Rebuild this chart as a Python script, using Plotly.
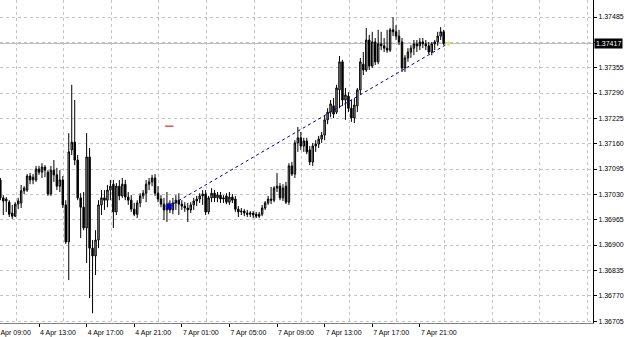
import plotly.graph_objects as go
import pandas as pd

# ---- data (EURUSD-like M15 candles, 4 Apr 09:45 -> 7 Apr 22:45) ----
opens = [
1.37067,1.37021,1.37013,1.37010,1.36982,1.36974,1.37005,1.37008,1.37039,1.37041,
1.37077,1.37067,1.37067,1.37095,1.37087,1.37100,1.37087,1.37031,1.37092,1.37080,
1.37051,1.37067,1.37003,1.36908,1.37144,1.37164,1.37118,1.37021,1.36997,1.36944,
1.37126,1.36892,1.36872,1.36913,1.37003,1.37021,1.37015,1.37041,1.37056,1.36985,
1.37051,1.37026,1.37056,1.37023,1.37015,1.36992,1.36979,1.37008,1.37026,1.37033,
1.37056,1.37062,1.37072,1.37033,1.37018,1.37005,1.36990,1.36997,1.36990,1.37008,
1.37015,1.37005,1.37000,1.36995,1.36990,1.37003,1.37013,1.37018,1.37026,1.37031,
1.36985,1.37021,1.37033,1.37021,1.37028,1.37018,1.37026,1.37010,1.37023,1.37018,
1.36992,1.36985,1.36987,1.36982,1.36979,1.36982,1.36979,1.36974,1.36979,1.36995,
1.37008,1.37018,1.37015,1.37046,1.37051,1.37021,1.37051,1.37010,1.37103,1.37082,
1.37162,1.37175,1.37154,1.37167,1.37144,1.37113,1.37154,1.37159,1.37172,1.37182,
1.37221,1.37241,1.37257,1.37241,1.37298,1.37370,1.37272,1.37282,1.37251,1.37226,
1.37257,1.37298,1.37364,1.37349,1.37426,1.37359,1.37421,1.37370,1.37416,1.37411,
1.37405,1.37400,1.37452,1.37447,1.37436,1.37421,1.37354,1.37380,1.37395,1.37405,
1.37416,1.37411,1.37421,1.37416,1.37411,1.37395,1.37416,1.37421,1.37436,1.37447]
highs = [
1.37072,1.37028,1.37023,1.37015,1.37003,1.37010,1.37021,1.37054,1.37051,1.37082,
1.37085,1.37082,1.37103,1.37103,1.37110,1.37105,1.37092,1.37103,1.37118,1.37098,
1.37092,1.37077,1.37015,1.37187,1.37311,1.37272,1.37131,1.37033,1.37036,1.37187,
1.37149,1.36913,1.36938,1.37015,1.37041,1.37041,1.37054,1.37067,1.37067,1.37059,
1.37067,1.37072,1.37067,1.37036,1.37028,1.37008,1.37015,1.37033,1.37041,1.37067,
1.37072,1.37080,1.37082,1.37051,1.37028,1.37021,1.37036,1.37015,1.37021,1.37028,
1.37033,1.37015,1.37010,1.37008,1.37010,1.37021,1.37026,1.37033,1.37041,1.37041,
1.37026,1.37046,1.37041,1.37036,1.37036,1.37028,1.37033,1.37036,1.37031,1.37026,
1.37000,1.36995,1.36992,1.36990,1.36987,1.36987,1.36985,1.36985,1.37003,1.37013,
1.37026,1.37049,1.37051,1.37085,1.37059,1.37056,1.37062,1.37110,1.37113,1.37169,
1.37203,1.37190,1.37175,1.37175,1.37154,1.37162,1.37169,1.37180,1.37190,1.37231,
1.37251,1.37272,1.37277,1.37311,1.37385,1.37375,1.37303,1.37292,1.37272,1.37277,
1.37303,1.37380,1.37395,1.37457,1.37439,1.37447,1.37431,1.37452,1.37447,1.37431,
1.37452,1.37457,1.37485,1.37464,1.37452,1.37431,1.37387,1.37405,1.37413,1.37426,
1.37426,1.37431,1.37431,1.37426,1.37421,1.37421,1.37426,1.37447,1.37459,1.37452]
lows = [
1.37015,1.36977,1.36985,1.36972,1.36967,1.36972,1.36992,1.36995,1.37031,1.37036,
1.37056,1.37056,1.37062,1.37080,1.37072,1.37074,1.37026,1.37026,1.37062,1.37041,
1.37036,1.36995,1.36903,1.36810,1.37131,1.37105,1.37015,1.36918,1.36938,1.36854,
1.36764,1.36725,1.36823,1.36892,1.36977,1.36990,1.36997,1.37015,1.36944,1.36977,
1.37015,1.37021,1.37015,1.37003,1.36985,1.36974,1.36969,1.36997,1.37018,1.37010,
1.37041,1.37051,1.37026,1.37010,1.36997,1.36964,1.36959,1.36982,1.36979,1.36990,
1.36977,1.36990,1.36985,1.36959,1.36982,1.36990,1.37000,1.37008,1.37003,1.36977,
1.36979,1.37010,1.37010,1.37010,1.37008,1.37008,1.37005,1.37003,1.37008,1.36985,
1.36972,1.36977,1.36974,1.36972,1.36972,1.36969,1.36969,1.36969,1.36974,1.36990,
1.37003,1.37005,1.37010,1.37036,1.37015,1.37013,1.37005,1.37003,1.37077,1.37072,
1.37139,1.37144,1.37139,1.37133,1.37105,1.37103,1.37139,1.37149,1.37162,1.37169,
1.37210,1.37228,1.37226,1.37236,1.37251,1.37257,1.37221,1.37241,1.37216,1.37213,
1.37241,1.37287,1.37336,1.37344,1.37349,1.37354,1.37362,1.37364,1.37400,1.37395,
1.37393,1.37395,1.37436,1.37426,1.37413,1.37344,1.37344,1.37370,1.37380,1.37387,
1.37395,1.37400,1.37405,1.37400,1.37390,1.37387,1.37400,1.37411,1.37426,1.37413]
closes = [
1.37021,1.37013,1.37018,1.36979,1.36974,1.37005,1.37013,1.37039,1.37046,1.37077,
1.37067,1.37074,1.37095,1.37087,1.37100,1.37092,1.37031,1.37092,1.37080,1.37051,
1.37067,1.37003,1.36908,1.37139,1.37164,1.37118,1.37021,1.36997,1.36944,1.37126,
1.36892,1.36872,1.36913,1.37003,1.37021,1.37015,1.37041,1.37051,1.36985,1.37051,
1.37026,1.37056,1.37023,1.37015,1.36992,1.36979,1.37008,1.37026,1.37033,1.37056,
1.37062,1.37072,1.37033,1.37018,1.37005,1.36990,1.36997,1.36990,1.37008,1.37015,
1.37005,1.37000,1.36995,1.36990,1.37003,1.37013,1.37018,1.37026,1.37031,1.36985,
1.37021,1.37033,1.37021,1.37028,1.37018,1.37021,1.37010,1.37023,1.37015,1.36992,
1.36985,1.36987,1.36982,1.36979,1.36982,1.36977,1.36974,1.36979,1.36995,1.37008,
1.37018,1.37015,1.37046,1.37051,1.37021,1.37046,1.37010,1.37103,1.37082,1.37162,
1.37175,1.37154,1.37167,1.37139,1.37113,1.37154,1.37159,1.37172,1.37182,1.37221,
1.37241,1.37262,1.37236,1.37303,1.37370,1.37272,1.37285,1.37251,1.37226,1.37259,
1.37298,1.37370,1.37349,1.37426,1.37359,1.37421,1.37370,1.37416,1.37411,1.37405,
1.37400,1.37452,1.37447,1.37436,1.37421,1.37354,1.37380,1.37395,1.37405,1.37416,
1.37411,1.37421,1.37416,1.37411,1.37395,1.37416,1.37421,1.37436,1.37447,1.37417]

# bar times: Friday session then Monday session (weekend skipped)
bar_times = list(pd.date_range("2014-04-04 09:45", "2014-04-04 23:45", freq="15min")) + \
            list(pd.date_range("2014-04-07 00:00", "2014-04-07 22:45", freq="15min"))
n_bars = len(opens)

time_labels = ["4 Apr 09:00", "4 Apr 13:00", "4 Apr 17:00", "4 Apr 21:00", "7 Apr 01:00",
               "7 Apr 05:00", "7 Apr 09:00", "7 Apr 13:00", "7 Apr 17:00", "7 Apr 21:00"]
price_ticks = [1.37485, 1.37420, 1.37355, 1.37290, 1.37225, 1.37160, 1.37095,
               1.37030, 1.36965, 1.36900, 1.36835, 1.36770, 1.36705]
price_labels = ["1.37485", "", "1.37355", "1.37290", "1.37225", "1.37160", "1.37095",
                "1.37030", "1.36965", "1.36900", "1.36835", "1.36770", "1.36705"]
current_price = 1.37417
trend_x = [56.4, 150.5]          # bar positions of the trendline anchors
trend_y = [1.36998, 1.37417]
red_mark = (56.8, 1.37205)
blue_mark = (56.7, 1.37000)

# ---- helpers: map label time -> bar index ----
t0_fri = pd.Timestamp("2014-04-04 09:45")
t0_mon = pd.Timestamp("2014-04-07 00:00")
fri_bars = sum(1 for t in bar_times if t.day == 4)
def label_to_idx(lbl):
    d, m, hm = lbl.split()
    t = pd.Timestamp(f"2014-04-0{d} {hm}")
    if int(d) == 4:
        return (t - t0_fri) / pd.Timedelta("15min")
    return fri_bars + (t - t0_mon) / pd.Timedelta("15min")
tick_idx = [label_to_idx(l) for l in time_labels]

idx = list(range(n_bars))
FONT = "Liberation Sans, Arial, sans-serif"
GRID = "#c4c4c4"

fig = go.Figure()
fig.add_trace(go.Candlestick(
    x=idx, open=opens, high=highs, low=lows, close=closes,
    increasing=dict(line=dict(color="black", width=1), fillcolor="#a8a8a8"),
    decreasing=dict(line=dict(color="black", width=1), fillcolor="black"),
    whiskerwidth=0, showlegend=False, hoverinfo="skip"))
fig.add_trace(go.Scatter(x=trend_x, y=trend_y, mode="lines",
                         line=dict(color="#000080", width=1, dash="3px,3px"),
                         showlegend=False, hoverinfo="skip"))
fig.add_trace(go.Scatter(x=[red_mark[0]], y=[red_mark[1]], mode="markers",
                         marker=dict(symbol="line-ew", size=6, line=dict(color="#cc0000", width=1)),
                         showlegend=False, hoverinfo="skip"))
fig.add_trace(go.Scatter(x=[blue_mark[0]], y=[blue_mark[1]], mode="markers",
                         marker=dict(symbol="asterisk", size=6, line=dict(color="#0000cc", width=1.5)),
                         showlegend=False, hoverinfo="skip"))
fig.add_trace(go.Scatter(x=[trend_x[1]], y=[current_price], mode="markers",
                         marker=dict(symbol="triangle-left", size=5, color="#e8e060"),
                         showlegend=False, hoverinfo="skip"))

fig.add_shape(type="line", xref="paper", x0=0, x1=1, yref="y", y0=current_price, y1=current_price,
              line=dict(color="#bdbdbd", width=1), layer="below")

# partially cut first time label
first_px = 0.325 + 2.975 * tick_idx[0]
fig.add_annotation(xref="paper", yref="paper", x=(first_px + 1.5) / 593, y=0,
                   xanchor="left", yanchor="top", yshift=-4, text=time_labels[0],
                   showarrow=False, font=dict(family=FONT, size=7, color="black"))
fig.add_annotation(xref="paper", x=1, xanchor="left", xshift=1, yref="y", y=current_price,
                   text=current_price_text if False else f"{current_price:.5f}",
                   showarrow=False, bgcolor="black", borderpad=1,
                   font=dict(family=FONT, size=7, color="white"))

grid_x = [t - 7.73 for t in tick_idx[1:]] + [tick_idx[-1] + 16 - 7.73 + 16 * k for k in range(4)]

fig.update_layout(
    width=625, height=337,
    margin=dict(l=0, r=32, t=0, b=14),
    paper_bgcolor="white", plot_bgcolor="white",
    font=dict(family=FONT, size=7, color="black"),
    xaxis=dict(range=[-0.11, 199.2], tickmode="array", tickvals=tick_idx[1:], ticktext=time_labels[1:],
               ticks="outside", ticklen=3, tickcolor="black", ticklabelshift=19,
               showgrid=False, zeroline=False, showline=True, linecolor="#808080",
               rangeslider=dict(visible=False), tickfont=dict(size=7, family=FONT),
               minor=dict(tickmode="array", tickvals=grid_x, showgrid=True, gridcolor=GRID,
                          griddash="3px,3px", gridwidth=1, ticks="")),
    yaxis=dict(side="right", range=[1.36700, 1.375286], tickmode="array",
               tickvals=price_ticks, ticktext=price_labels, ticks="outside", ticklen=3,
               tickcolor="black", showgrid=True, gridcolor=GRID, griddash="3px,3px",
               zeroline=False, showline=True, linecolor="black", tickfont=dict(size=7, family=FONT)),
)
fig.write_html("out.html")
